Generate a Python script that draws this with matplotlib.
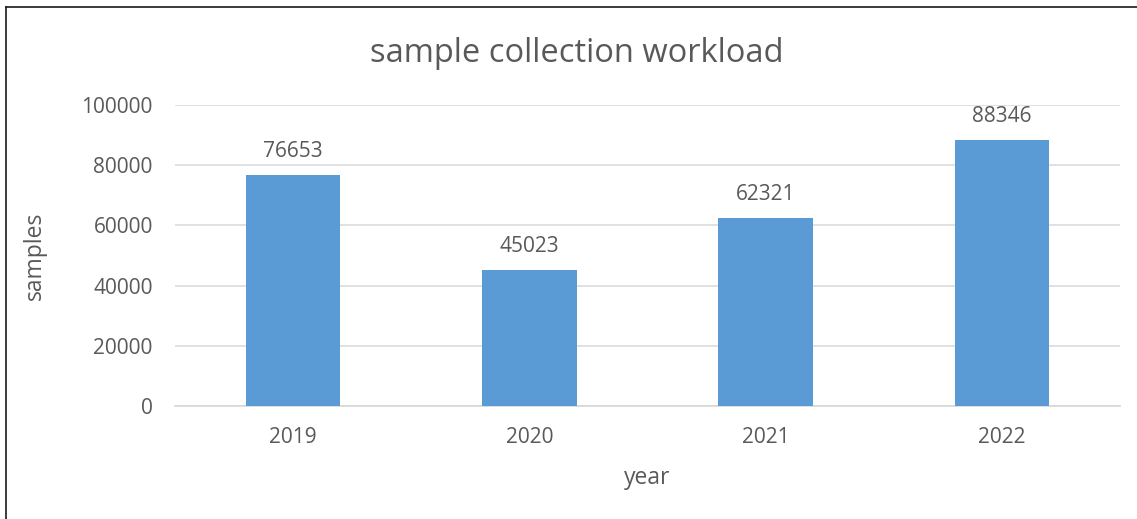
import matplotlib.pyplot as plt
from matplotlib.lines import Line2D

years = ["2019", "2020", "2021", "2022"]
samples = [76653, 45023, 62321, 88346]

txt = "#595959"
plt.rcParams["font.family"] = ["Open Sans", "DejaVu Sans"]

fig = plt.figure(figsize=(11.37, 5.19), dpi=100)
ax = fig.add_axes([175 / 1137, 1 - 406 / 519, 945 / 1137, 301 / 519])

x = range(len(years))
ax.bar(x, samples, width=0.4, color="#5B9BD5", zorder=3)
for i, v in zip(x, samples):
    ax.annotate(str(v), (i, v), xytext=(0, 17), textcoords="offset points",
                ha="center", va="center", fontsize=15, color=txt)

ax.set_xlim(-0.5, len(years) - 0.5)
ax.set_ylim(0, 100000)
ax.set_yticks(range(0, 100001, 20000))
ax.set_xticks(list(x))
ax.set_xticklabels(years)
ax.grid(axis="y", color="#D9D9D9", linewidth=1.1, zorder=0)
ax.tick_params(length=0, labelsize=15, labelcolor=txt)
ax.tick_params(axis="y", pad=16)
ax.tick_params(axis="x", pad=15)
for s in ["top", "right", "left"]:
    ax.spines[s].set_visible(False)
ax.spines["bottom"].set_color("#D9D9D9")
ax.spines["bottom"].set_linewidth(1.3)

ax.set_ylabel("samples", fontsize=16.5, color=txt)
ax.yaxis.set_label_coords(-0.1355, 0.5)
ax.set_xlabel("year", fontsize=16.5, color=txt)
ax.xaxis.set_label_coords(0.5, -0.199)

fig.text(577 / 1137, 1 - 53 / 519, "sample collection workload",
         ha="center", va="center", fontsize=23.5, color=txt)

y_top = 1 - 7 / 519
x_left = 5.5 / 1137
fig.add_artist(Line2D([x_left, x_left], [0, y_top], color="#1a1a1a", linewidth=1.2))
fig.add_artist(Line2D([x_left, 1], [y_top, y_top], color="#1a1a1a", linewidth=1.2))

fig.savefig("out.png", dpi=100)
